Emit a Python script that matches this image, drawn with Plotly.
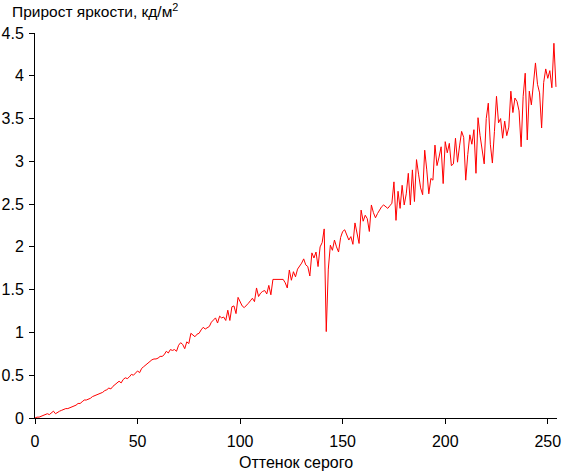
import plotly.graph_objects as go

values = [
    0.00, 0.01, 0.01, 0.02, 0.03, 0.04, 0.05, 0.04, 0.06, 0.08,
    0.05, 0.07, 0.08, 0.09, 0.10, 0.11, 0.11, 0.12, 0.13, 0.14,
    0.15, 0.17, 0.17, 0.19, 0.21, 0.21, 0.22, 0.23, 0.25, 0.26,
    0.27, 0.28, 0.29, 0.30, 0.32, 0.33, 0.35, 0.34, 0.37, 0.39,
    0.40, 0.43, 0.41, 0.45, 0.47, 0.46, 0.48, 0.51, 0.50, 0.53,
    0.55, 0.53, 0.58, 0.60, 0.62, 0.65, 0.67, 0.68, 0.69, 0.69,
    0.70, 0.72, 0.72, 0.74, 0.78, 0.76, 0.80, 0.79, 0.80, 0.78,
    0.85, 0.88, 0.86, 0.81, 0.89, 0.87, 0.99, 0.97, 0.95, 0.98,
    0.99, 1.03, 1.06, 1.04, 1.06, 1.07, 1.12, 1.14, 1.17, 1.11,
    1.19, 1.17, 1.18, 1.14, 1.26, 1.14, 1.30, 1.31, 1.22, 1.41,
    1.36, 1.31, 1.29, 1.31, 1.34, 1.37, 1.40, 1.36, 1.52, 1.42,
    1.46, 1.48, 1.49, 1.45, 1.55, 1.44, 1.62, 1.62, 1.62, 1.62,
    1.62, 1.62, 1.58, 1.52, 1.73, 1.61, 1.71, 1.65, 1.74, 1.77,
    1.81, 1.86, 1.79, 1.77, 1.66, 1.93, 1.87, 1.94, 1.77, 2.00,
    2.05, 2.21, 1.01, 1.74, 2.02, 1.96, 2.08, 2.00, 1.94, 2.11,
    2.18, 2.20, 2.15, 2.08, 2.12, 2.03, 2.28, 2.15, 2.04, 2.43,
    2.30, 2.37, 2.33, 2.18, 2.49, 2.40, 2.34, 2.39, 2.43, 2.47,
    2.49, 2.47, 2.45, 2.48, 2.51, 2.76, 2.31, 2.65, 2.45, 2.72,
    2.49, 2.62, 2.86, 2.49, 2.90, 2.53, 3.02, 2.85, 2.69, 2.61,
    3.13, 2.90, 2.62, 2.80, 2.78, 3.19, 2.95, 3.05, 3.17, 2.74,
    3.23, 3.10, 3.21, 2.95, 2.97, 3.27, 2.99, 3.18, 3.35, 3.28,
    2.78, 3.08, 3.31, 3.20, 3.37, 2.86, 3.51, 3.30, 3.10, 2.97,
    3.50, 3.68, 3.20, 2.98, 3.35, 3.76, 3.45, 3.50, 3.27, 3.47,
    3.30, 3.40, 3.82, 3.57, 3.74, 3.70, 3.59, 3.17, 3.76, 4.03,
    3.25, 3.82, 3.66, 3.93, 4.15, 3.90, 3.80, 3.39, 3.92, 4.08,
    3.97, 4.06, 3.86, 4.38, 3.87,
]
shades = list(range(len(values)))

x_ticks = [0, 50, 100, 150, 200, 250]
y_ticks = [0, 0.5, 1, 1.5, 2, 2.5, 3, 3.5, 4, 4.5]
y_tick_labels = ["0", "0.5", "1", "1.5", "2", "2.5", "3", "3.5", "4", "4.5"]

font_family = "Liberation Sans, Arial, sans-serif"

fig = go.Figure()
fig.add_trace(go.Scatter(
    x=shades, y=values, mode="lines",
    line=dict(color="#ff0000", width=1),
    hoverinfo="skip", showlegend=False,
))

fig.update_layout(
    width=562, height=471,
    margin=dict(l=35, r=1, t=33, b=53),
    paper_bgcolor="white", plot_bgcolor="white",
    font=dict(family=font_family, size=16, color="black"),
    title=dict(
        text="Прирост яркости, кд/м<sup>2</sup>",
        x=12 / 562, xanchor="left", xref="container",
        y=1 - 12 / 471, yanchor="middle", yref="container",
        font=dict(family=font_family, size=15.5, color="black"),
    ),
    xaxis=dict(
        range=[0, 254.5], tickvals=x_ticks,
        showgrid=False, zeroline=False,
        showline=True, linecolor="black", linewidth=1,
        ticks="outside", ticklen=5, tickcolor="black",
        tickfont=dict(size=16), ticklabelstandoff=4,
        ticklabeloverflow="allow",
        fixedrange=True,
    ),
    yaxis=dict(
        range=[0, 4.5], tickvals=y_ticks, ticktext=y_tick_labels,
        showgrid=False, zeroline=False,
        showline=True, linecolor="black", linewidth=1,
        ticks="outside", ticklen=5, tickcolor="black",
        tickfont=dict(size=16), ticklabelstandoff=2,
        ticklabeloverflow="allow",
        fixedrange=True,
    ),
    annotations=[dict(
        text="Оттенок серого", xref="paper", yref="paper",
        x=0.5, y=-(462 - 417.7) / 385, xanchor="center", yanchor="middle",
        showarrow=False, font=dict(family=font_family, size=16, color="black"),
    )],
)

fig.write_html(
    "out.html",
    config={"displayModeBar": False, "staticPlot": True},
    post_script="document.body.style.margin='0px';",
)
